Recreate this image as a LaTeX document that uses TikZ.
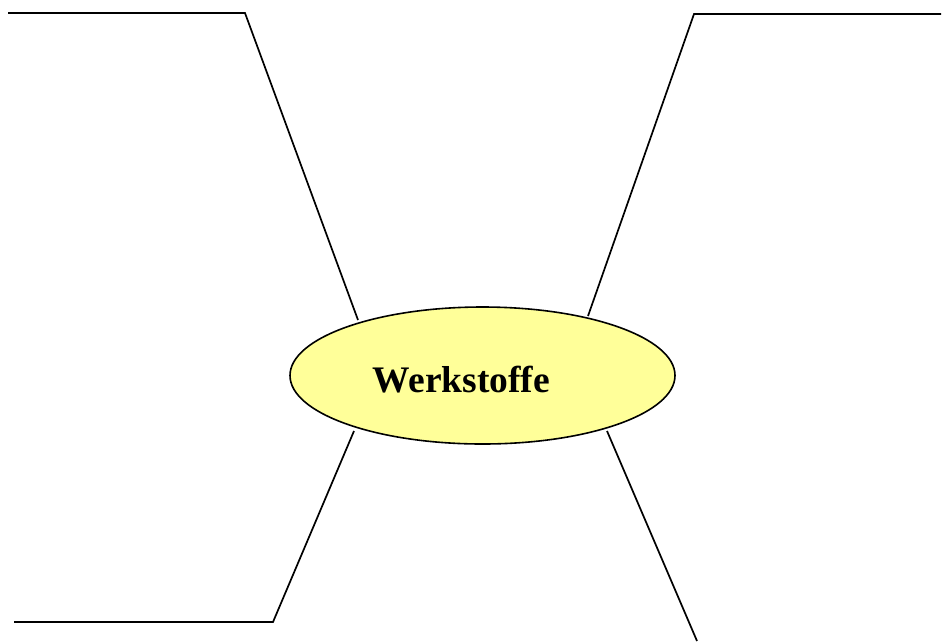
\documentclass[tikz,border=0pt]{standalone}
\usepackage{fontspec}
\setmainfont{Liberation Serif}
\usetikzlibrary{shapes.geometric}
\definecolor{paleyellow}{HTML}{FFFF99}
\tikzset{
  branch/.style={draw=black, line width=1.7pt, line join=miter},
  core/.style={ellipse, draw=black, line width=1.6pt, fill=paleyellow,
               minimum width=385pt, minimum height=137pt, inner sep=0pt},
  label/.style={font=\bfseries\fontsize{37.5}{44}\selectfont, inner sep=0pt, anchor=base}
}
\begin{document}
\begin{tikzpicture}[x=1pt,y=-1pt]
\useasboundingbox (0,0) rectangle (944,641);
\node[core] (e) at (482.5,375.5) {};
\node[label] (t) at (461.5,392) {Werkstoffe};
% top-left branch
\coordinate (tl0) at (8,13);
\coordinate (tl1) at (245,13);
\coordinate (tl2) at (358,320);
% top-right branch
\coordinate (tr0) at (941,14);
\coordinate (tr1) at (694,14);
\coordinate (tr2) at (588,316);
% bottom-left branch
\coordinate (bl0) at (14,622);
\coordinate (bl1) at (273,622);
\coordinate (bl2) at (354,431);
% bottom-right branch
\coordinate (br1) at (697,641);
\coordinate (br2) at (607,431);
\draw[branch] (tl0) -- (tl1) -- (tl2);
\draw[branch] (tr0) -- (tr1) -- (tr2);
\draw[branch] (bl0) -- (bl1) -- (bl2);
\draw[branch] (br2) -- (br1);
\end{tikzpicture}
\end{document}
